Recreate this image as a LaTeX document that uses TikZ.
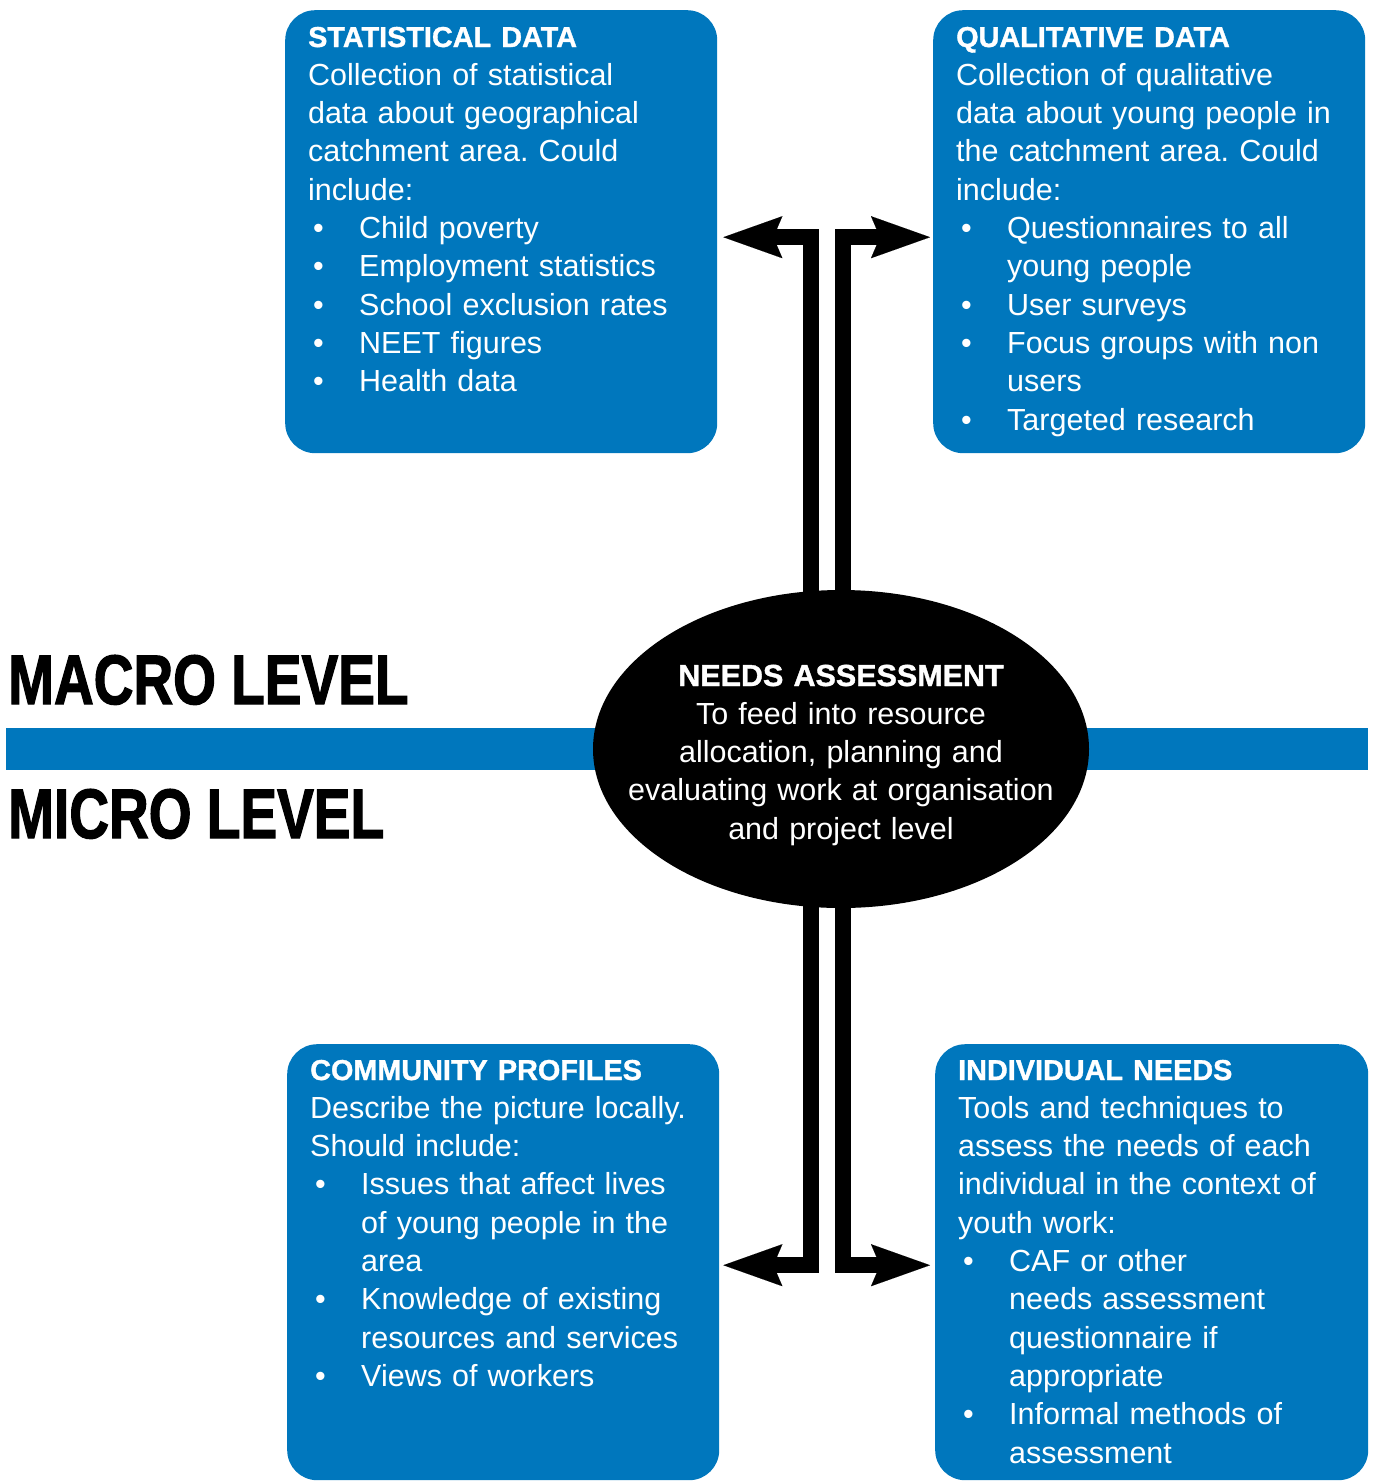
\documentclass[tikz,border=0pt]{standalone}
\usepackage{fontspec}
\setmainfont{Liberation Sans}
\newfontfamily\heavyfont{Liberation Sans Bold}[FakeBold=1.2]
\newfontfamily\blackfont{Liberation Sans Bold}[FakeBold=2]
\usetikzlibrary{arrows.meta,shapes.geometric,calc}
\definecolor{nablue}{RGB}{0,119,189}
\newcommand\bl{\makebox[51pt][l]{\hspace{5pt}\textbullet}}
\newcommand\ind{\hspace*{51pt}}
\newcommand\hd[1]{{\fontsize{28.8}{38.3}\heavyfont #1}}
\frenchspacing
\tikzset{
  panel/.style={fill=nablue, rounded corners=30pt, minimum width=432pt, minimum height=443pt, inner sep=0pt, anchor=north west},
  paneltext/.style={text=white, anchor=base west, inner sep=0pt, text width=420pt, align=left, font=\fontsize{30.5}{38.3}\selectfont\frenchspacing},
  conn/.style={line width=16pt, line join=miter, -{Stealth[length=59pt, width=42pt, inset=9pt, line width=0.01pt]}},
  level/.style={anchor=base west, inner sep=0pt, font=\fontsize{70}{70}\blackfont}
}
\begin{document}
\begin{tikzpicture}[x=1pt,y=-1pt]
\useasboundingbox (0,0) rectangle (1373,1481);
% panels
\node[panel] (stat) at (285,10) {};
\node[panel] (qual) at (933,10) {};
\node[panel, minimum height=436pt] (comm) at (287,1044) {};
\node[panel, minimum width=433pt, minimum height=436pt] (indiv) at (935,1044) {};
% level bar
\fill[nablue] (6,728) rectangle (1368,770);
% ellipse reference (for connector anchors)
\path (841,749) node[ellipse, minimum width=496pt, minimum height=318pt, inner sep=0pt] (ellref) {};
% connectors
\draw[conn] ([xshift=-30pt]ellref.center) |- ($(stat.east)+(6,5.5)$);
\draw[conn] ([xshift=2pt]ellref.center) |- ($(qual.west)+(-3,5.5)$);
\draw[conn] ([xshift=-30pt]ellref.center) |- ($(comm.east)+(4,3)$);
\draw[conn] ([xshift=2pt]ellref.center) |- ($(indiv.west)+(-5,3)$);
% ellipse
\node[ellipse, fill=black, minimum width=496pt, minimum height=318pt, inner sep=0pt] (ell) at (841,749) {};
\node[text=white, anchor=base, inner sep=0pt, text width=470pt, align=center, font=\fontsize{30.5}{38.3}\selectfont] (elltxt) at (841,686)
{{\heavyfont NEEDS ASSESSMENT}\\To feed into resource\\allocation, planning and\\evaluating work at organisation\\and project level};
% panel texts
\node[paneltext] (stattxt) at (308,47) {\hd{STATISTICAL DATA}\\
Collection of statistical\\
data about geographical\\
catchment area. Could\\
include:\\
\bl Child poverty\\
\bl Employment statistics\\
\bl School exclusion rates\\
\bl NEET figures\\
\bl Health data};
\node[paneltext] (qualtxt) at (956,47) {\hd{QUALITATIVE DATA}\\
Collection of qualitative\\
data about young people in\\
the catchment area. Could\\
include:\\
\bl Questionnaires to all\\
\ind young people\\
\bl User surveys\\
\bl Focus groups with non\\
\ind users\\
\bl Targeted research};
\node[paneltext] (commtxt) at (310,1080) {\hd{COMMUNITY PROFILES}\\
Describe the picture locally.\\
Should include:\\
\bl Issues that affect lives\\
\ind of young people in the\\
\ind area\\
\bl Knowledge of existing\\
\ind resources and services\\
\bl Views of workers};
\node[paneltext] (indivtxt) at (958,1080) {\hd{INDIVIDUAL NEEDS}\\
Tools and techniques to\\
assess the needs of each\\
individual in the context of\\
youth work:\\
\bl CAF or other\\
\ind needs assessment\\
\ind questionnaire if\\
\ind appropriate\\
\bl Informal methods of\\
\ind assessment};
% level labels
\node[level] (macro) at (8,704) {\scalebox{0.786}[1]{MACRO LEVEL}};
\node[level] (micro) at (8,838) {\scalebox{0.786}[1]{MICRO LEVEL}};
\end{tikzpicture}
\end{document}
